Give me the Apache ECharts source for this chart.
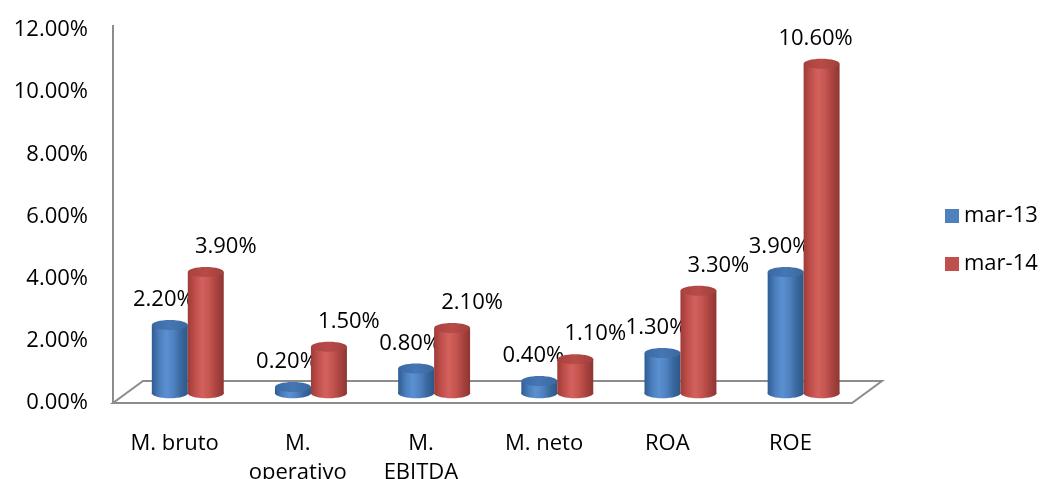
<!DOCTYPE html>
<html>
<head>
<meta charset="utf-8">
<script src="https://cdn.jsdelivr.net/npm/echarts@6/dist/echarts.min.js"></script>
<style>
  html, body { margin: 0; padding: 0; background: #ffffff; }
  #chart { width: 1046px; height: 479px; }
</style>
</head>
<body>
<div id="chart"></div>
<script>
// Margins and returns by period (percent)
const categories = ['M. bruto', 'M.\noperativo', 'M.\nEBITDA', 'M. neto', 'ROA', 'ROE'];
const seriesNames = ['mar-13', 'mar-14'];
const mar13 = [2.2, 0.2, 0.8, 0.4, 1.3, 3.9];
const mar14 = [3.9, 1.5, 2.1, 1.1, 3.3, 10.6];
const yMin = 0, yMax = 12, yStep = 2;

const FONT = '"Open Sans", "Liberation Sans", sans-serif';
const FONT_SIZE = 22;
const AXIS_GREY = '#8c8c8c';

// Pseudo-3D floor depth and the depth plane the cylinders stand on
const DEPTH = { x: 30, y: -22 };
const BAR_PLANE = 0.44;

const palette = {
  'mar-13': {
    flat: '#4F81BD',
    body: ['#2f5c92', '#4a7dbb', '#5b90d1', '#4f82c0', '#3a699f', '#2c5787'],
    top: ['#3a6aa6', '#4676b3', '#3b68a0']
  },
  'mar-14': {
    flat: '#C0504D',
    body: ['#9e3b38', '#c04f4b', '#d3625e', '#c5554f', '#a94340', '#8f3532'],
    top: ['#a9423f', '#b84b47', '#a1403c']
  }
};

function gradient(stops) {
  const n = stops.length - 1;
  return new echarts.graphic.LinearGradient(0, 0, 1, 0,
    stops.map((c, k) => ({ offset: k / n, color: c })));
}

function fmtPct(v) { return v.toFixed(2) + '%'; }

function cylinderRenderer(name, side) {
  const col = palette[name];
  return function (params, api) {
    const i = api.value(0);
    const v = api.value(1);
    const top = api.coord([i, v]);
    const base = api.coord([i, 0]);
    const band = api.size([1, 0])[0];
    const w = band * 0.292;
    const rx = w / 2, ry = 5;
    const cx = top[0] + DEPTH.x * BAR_PLANE + side * rx;
    const dy = DEPTH.y * BAR_PLANE;
    const yt = top[1] + dy;
    const yb = base[1] + dy;
    const grid = params.coordSys;
    // value labels sit above the cylinder, nudged sideways by series
    let lx = side < 0 ? cx - 6 : cx + 20;
    if (side > 0 && yt - 24 < grid.y + 50) lx = cx - 6;
    return {
      type: 'group',
      children: [
        { type: 'ellipse', shape: { cx: cx, cy: yb, rx: rx, ry: ry },
          style: { fill: gradient(col.body) } },
        { type: 'rect', shape: { x: cx - rx, y: yt, width: w, height: Math.max(yb - yt, 0) },
          style: { fill: gradient(col.body) } },
        { type: 'ellipse', shape: { cx: cx, cy: yt, rx: rx, ry: ry },
          style: { fill: gradient(col.top) } },
        { type: 'text', x: lx, y: yt - 25,
          style: { text: fmtPct(v), fill: '#000', font: FONT_SIZE + 'px ' + FONT,
                   align: 'center', verticalAlign: 'middle' } }
      ]
    };
  };
}

function floorRenderer(params, api) {
  const g = params.coordSys;
  const fl = [g.x, g.y + g.height];
  const fr = [g.x + g.width, g.y + g.height];
  const br = [fr[0] + DEPTH.x, fr[1] + DEPTH.y];
  const bl = [fl[0] + DEPTH.x, fl[1] + DEPTH.y];
  return {
    type: 'group',
    children: [
      { type: 'polygon', shape: { points: [fl, fr, br, bl] },
        style: { fill: 'none', stroke: AXIS_GREY, lineWidth: 2 } },
      // wall edge runs a little above the top tick
      { type: 'line', shape: { x1: g.x, y1: g.y - 5, x2: g.x, y2: g.y + g.height },
        style: { stroke: AXIS_GREY, lineWidth: 2 } }
    ]
  };
}

const chart = echarts.init(document.getElementById('chart'), null, { renderer: 'canvas' });

chart.setOption({
  animation: false,
  backgroundColor: '#ffffff',
  textStyle: { fontFamily: FONT },
  grid: { left: 113, right: 194, top: 30, bottom: 76, containLabel: false,
          outerBoundsMode: 'none' },
  legend: {
    data: seriesNames,
    orient: 'vertical',
    left: 940,
    top: 200,
    icon: 'rect',
    itemWidth: 14,
    itemHeight: 14,
    itemGap: 26,
    textStyle: { fontSize: FONT_SIZE, color: '#000', fontFamily: FONT }
  },
  xAxis: {
    type: 'category',
    data: categories,
    boundaryGap: true,
    axisLine: { show: false },
    axisTick: { show: false },
    axisLabel: { interval: 0, margin: 26, fontSize: FONT_SIZE, lineHeight: 29,
                 color: '#000', fontFamily: FONT }
  },
  yAxis: {
    type: 'value',
    min: yMin, max: yMax, interval: yStep,
    splitLine: { show: false },
    axisTick: { show: false },
    axisLine: { show: false },
    axisLabel: { margin: 25, fontSize: FONT_SIZE, color: '#000', fontFamily: FONT,
                 formatter: fmtPct }
  },
  series: [
    {
      type: 'custom', name: 'floor', silent: true, z: 1,
      renderItem: floorRenderer, data: [[0, 0]], clip: false
    },
    {
      type: 'custom', name: seriesNames[0], z: 2, clip: false,
      itemStyle: { color: palette['mar-13'].flat },
      encode: { x: 0, y: 1 },
      renderItem: cylinderRenderer('mar-13', -1),
      data: mar13.map((v, i) => [i, v])
    },
    {
      type: 'custom', name: seriesNames[1], z: 3, clip: false,
      itemStyle: { color: palette['mar-14'].flat },
      encode: { x: 0, y: 1 },
      renderItem: cylinderRenderer('mar-14', 1),
      data: mar14.map((v, i) => [i, v])
    }
  ]
});
</script>
</body>
</html>
